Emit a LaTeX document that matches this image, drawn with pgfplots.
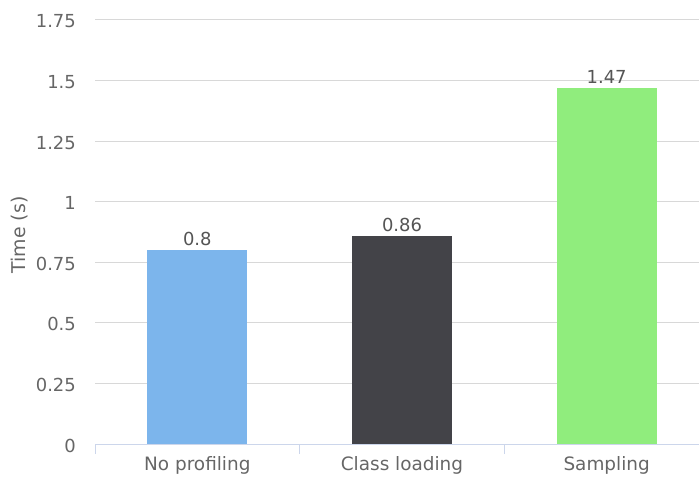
\documentclass[border=0pt]{standalone}
\usepackage{pgfplots}
\pgfplotsset{compat=1.18}
\usepackage{fontspec}
\setmainfont{DejaVu Sans}

\definecolor{barblue}{HTML}{7CB5EC}
\definecolor{bardark}{HTML}{434348}
\definecolor{bargreen}{HTML}{90ED7D}
\definecolor{gridc}{HTML}{D8D8D8}
\definecolor{axisc}{HTML}{CCD6EB}
\definecolor{labelc}{HTML}{666666}
\definecolor{valuec}{HTML}{555555}

\begin{document}
\begin{tikzpicture}
\useasboundingbox (0,0) rectangle (699bp,477bp);
\begin{axis}[
  at={(95bp,33bp)}, anchor=south west,
  scale only axis,
  width=614bp, height=424bp,
  ybar,
  bar width=100bp,
  xmin=-0.5, xmax=2.5,
  ymin=0, ymax=1.75,
  enlargelimits=false,
  xtick={0,1,2},
  xticklabels={No profiling, Class loading, Sampling},
  minor xtick={-0.5,0.5,1.5},
  ytick={0,0.25,0.5,0.75,1,1.25,1.5,1.75},
  yticklabels={0,0.25,0.5,0.75,1,1.25,1.5,1.75},
  axis x line*=bottom,
  axis y line*=left,
  x axis line style={draw=axisc, line width=1bp},
  y axis line style={draw=none},
  tick align=outside,
  major tick length=0pt,
  minor tick length=10bp,
  minor tick style={draw=axisc, line width=1bp},
  ymajorgrids,
  major grid style={draw=gridc, line width=1bp},
  /pgf/number format/assume math mode=true,
  tick label style={font=\fontsize{18}{20}\selectfont, text=labelc},
  xticklabel style={anchor=base, inner sep=0pt, yshift=-26bp,
    font=\fontsize{18.5}{20}\selectfont},
  yticklabel style={anchor=east, inner sep=0pt, xshift=-19bp, yshift=-1.5bp},
  ylabel={Time (s)},
  every axis y label/.style={at={(axis description cs:-0.1221,0.493)},
    rotate=90, anchor=center, font=\fontsize{19}{20}\selectfont, text=labelc},
  nodes near coords,
  every node near coord/.append style={font=\fontsize{18}{20}\selectfont,
    text=valuec, anchor=south, inner sep=0pt, yshift=4bp},
]
\addplot[fill=barblue, draw=none, bar shift=0pt] coordinates {(0,0.8)};
\addplot[fill=bardark, draw=none, bar shift=0pt] coordinates {(1,0.86)};
\addplot[fill=bargreen, draw=none, bar shift=0pt] coordinates {(2,1.47)};
\end{axis}
\end{tikzpicture}
\end{document}
